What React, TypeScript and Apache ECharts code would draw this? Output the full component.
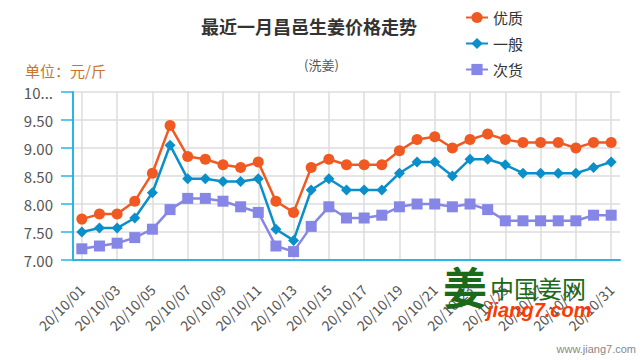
import React, { useEffect, useRef } from "react";
import * as echarts from "echarts";

const categories = [
  "20/10/01","20/10/02","20/10/03","20/10/04","20/10/05","20/10/06","20/10/07","20/10/08",
  "20/10/09","20/10/10","20/10/11","20/10/12","20/10/13","20/10/14","20/10/15","20/10/16",
  "20/10/17","20/10/18","20/10/19","20/10/20","20/10/21","20/10/22","20/10/23","20/10/24",
  "20/10/25","20/10/26","20/10/27","20/10/28","20/10/29","20/10/30","20/10/31",
];
const youzhi = [7.73,7.82,7.82,8.05,8.55,9.4,8.85,8.8,8.7,8.65,8.75,8.05,7.85,8.65,8.8,8.7,8.7,8.7,8.95,9.15,9.2,9.0,9.15,9.25,9.15,9.1,9.1,9.1,9.0,9.1,9.1];
const yiban = [7.5,7.57,7.57,7.75,8.2,9.05,8.45,8.45,8.4,8.4,8.45,7.55,7.35,8.25,8.45,8.25,8.25,8.25,8.55,8.75,8.75,8.5,8.8,8.8,8.7,8.55,8.55,8.55,8.55,8.65,8.75];
const cihuo = [7.2,7.25,7.3,7.4,7.55,7.9,8.1,8.1,8.05,7.95,7.85,7.25,7.15,7.6,7.95,7.75,7.75,7.8,7.95,8.0,8.0,7.95,8.0,7.9,7.7,7.7,7.7,7.7,7.7,7.8,7.8];

const FONT = "'Noto Sans CJK SC', 'Noto Sans', sans-serif";

export default function App() {
  const ref = useRef<HTMLDivElement>(null);
  useEffect(() => {
    if (!ref.current) return;
    const chart = echarts.init(ref.current, null, { renderer: "svg" });
    const mk = (name: string, data: number[], color: string, symbol: string, size: number) => ({
      name,
      type: "line",
      data,
      symbol,
      symbolSize: size,
      itemStyle: { color },
      lineStyle: { color, width: 2.5 },
    });
    chart.setOption({
      animation: false,
      textStyle: { fontFamily: FONT },
      title: [
        {
          text: "最近一月昌邑生姜价格走势",
          left: 196,
          top: 12,
          textStyle: { fontSize: 18, fontWeight: "bold", color: "#333", fontFamily: FONT },
        },
        {
          text: "(洗姜)",
          left: 299,
          top: 53,
          textStyle: { fontSize: 13, fontWeight: "normal", color: "#555", fontFamily: FONT },
        },
        {
          text: "单位：元/斤",
          left: 20,
          top: 58,
          textStyle: { fontSize: 15, fontWeight: "normal", color: "#c8742a", fontFamily: FONT },
        },
      ],
      legend: {
        orient: "vertical",
        left: 460,
        top: 5,
        itemWidth: 22,
        itemHeight: 14,
        itemGap: 11,
        textStyle: { fontSize: 15, color: "#333", fontFamily: FONT },
        data: ["优质", "一般", "次货"],
      },
      grid: { left: 73, right: 20, top: 92, bottom: 100, containLabel: false },
      xAxis: {
        type: "category",
        data: categories,
        boundaryGap: true,
        axisLine: { lineStyle: { color: "#29b5e5", width: 2 } },
        axisTick: { interval: 1, alignWithLabel: true, length: 13, lineStyle: { color: "#29b5e5", width: 1.5 } },
        axisLabel: { interval: 1, rotate: 45, fontSize: 14, color: "#555", margin: 27, fontFamily: FONT },
        splitLine: { show: true, interval: 1, alignWithLabel: true, lineStyle: { color: "#dcdcdc", width: 1.5 } },
      },
      yAxis: {
        type: "value",
        min: 7,
        max: 10,
        interval: 0.5,
        axisLine: { show: true, lineStyle: { color: "#29b5e5", width: 2 } },
        axisTick: { show: true, length: 12, lineStyle: { color: "#29b5e5", width: 1.5 } },
        axisLabel: {
          fontSize: 15,
          color: "#555",
          margin: 20,
          width: 35,
          overflow: "truncate",
          ellipsis: "...",
          formatter: (v: number) => v.toFixed(2),
          fontFamily: FONT,
        },
        splitLine: { show: true, lineStyle: { color: "#dcdcdc", width: 1.5 } },
      },
      series: [
        mk("优质", youzhi, "#f05a22", "circle", 11),
        mk("一般", yiban, "#0b8fca", "diamond", 11),
        mk("次货", cihuo, "#8686e6", "rect", 11),
      ],
      graphic: [
        {
          type: "text",
          left: 443,
          top: 262,
          z: 100,
          style: { text: "姜", fontSize: 44, lineHeight: 48, fontWeight: "bold", fill: "#1a6a1a", fontFamily: FONT },
        },
        {
          type: "text",
          left: 490,
          top: 275,
          z: 100,
          style: { text: "中国姜网", fontSize: 24, lineHeight: 24, fill: "#1a6a1a", fontFamily: FONT },
        },
        {
          type: "text",
          left: 487,
          top: 300,
          z: 100,
          style: { text: "jiang7.com", fontSize: 20, lineHeight: 20, fontWeight: "bold", fontStyle: "italic", fill: "#ff3a00", fontFamily: "'Liberation Sans', Arial, sans-serif" },
        },
        {
          type: "text",
          right: 4,
          bottom: 6,
          z: 100,
          style: { text: "www.jiang7.com", fontSize: 11, fill: "#888", fontFamily: "'Liberation Sans', Arial, sans-serif" },
        },
      ],
    });
    return () => chart.dispose();
  }, []);
  return <div ref={ref} style={{ width: 640, height: 360, position: "absolute", left: 0, top: 0 }} />;
}
